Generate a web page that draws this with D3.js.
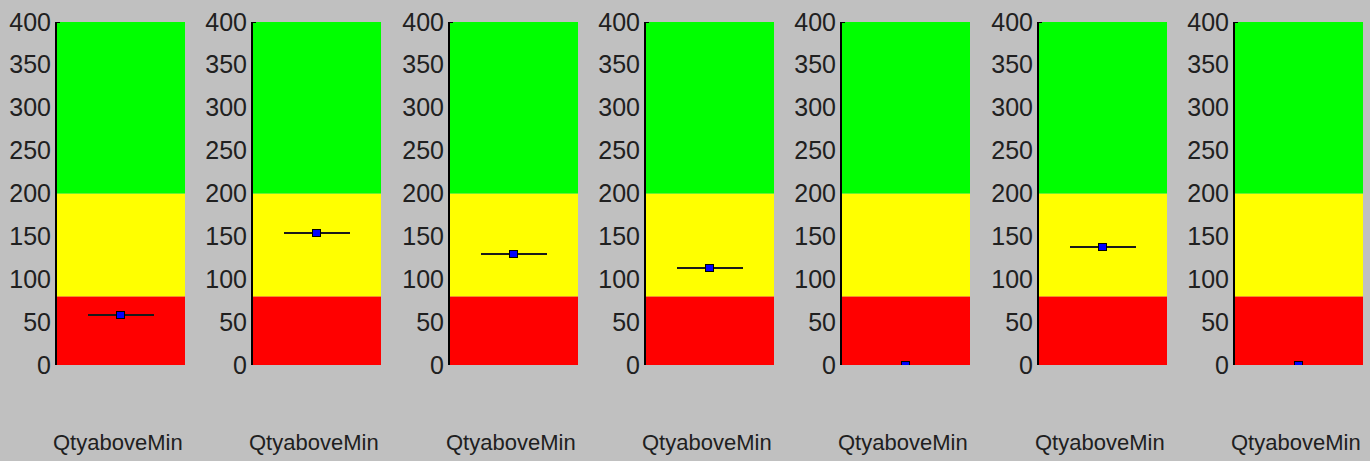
<!DOCTYPE html>
<html>
<head>
<meta charset="utf-8">
<script src="https://cdn.jsdelivr.net/npm/d3@7"></script>
<style>
  html, body { margin: 0; padding: 0; background: #c0c0c0; }
  svg { display: block; }
  .tick text { font-family: "Liberation Sans", Arial, sans-serif; }
</style>
</head>
<body>
<svg id="chart" width="1370" height="461"></svg>
<script>
// ---- data ----
const categories = ["QtyaboveMin", "QtyaboveMin", "QtyaboveMin", "QtyaboveMin", "QtyaboveMin", "QtyaboveMin", "QtyaboveMin"];
const values = [58, 154, 130, 113, 0, 138, 0];
const bandStarts = [0, 80, 200];
const bandEnds = [80, 200, 400];
const bandColors = ["#ff0000", "#ffff00", "#00ff00"];
const tickValues = [0, 50, 100, 150, 200, 250, 300, 350, 400];

// ---- layout ----
const plotTop = 22, plotBottom = 365;
const panelW = 128;
const svg = d3.select("#chart");

const xPanel = d3.scaleLinear().domain([0, categories.length - 1]).range([56, 1234]);
const y = d3.scaleLinear().domain([0, 400]).range([plotBottom, plotTop]);

const bands = bandStarts.map((s, i) => ({ s, e: bandEnds[i], c: bandColors[i] }));

const defs = svg.append("defs");
defs.selectAll("clipPath.m")
  .data(categories)
  .join("clipPath")
  .attr("class", "m")
  .attr("id", (d, i) => "clip" + i)
  .append("rect")
  .attr("x", (d, i) => Math.round(xPanel(i)) + 1)
  .attr("y", y(400))
  .attr("width", panelW)
  .attr("height", y(0) - y(400));
defs.selectAll("clipPath.l")
  .data(categories)
  .join("clipPath")
  .attr("class", "l")
  .attr("id", (d, i) => "clipl" + i)
  .append("rect")
  .attr("x", (d, i) => Math.round(xPanel(i)) + 1)
  .attr("y", y(400))
  .attr("width", panelW)
  .attr("height", y(0) - y(400) - 1);

categories.forEach((cat, i) => {
  const x0 = Math.round(xPanel(i));
  const g = svg.append("g");

  // bands
  g.selectAll("rect.band")
    .data(bands)
    .join("rect")
    .attr("class", "band")
    .attr("x", x0 + 1)
    .attr("width", panelW)
    .attr("y", d => y(d.e))
    .attr("height", d => y(d.s) - y(d.e))
    .attr("fill", d => d.c);

  // axis
  const ax = g.append("g")
    .attr("transform", `translate(${x0},0)`)
    .call(d3.axisLeft(y).tickValues(tickValues).tickSize(0).tickPadding(5).tickFormat(d3.format("d")));
  ax.select(".domain").remove();
  ax.selectAll(".tick text")
    .attr("font-size", 25)
    .attr("fill", "#202020");
  ax.append("line")
    .attr("x1", 0).attr("x2", 0)
    .attr("y1", y(400)).attr("y2", y(0))
    .attr("stroke", "#000").attr("stroke-width", 2);
  ax.append("line")
    .attr("x1", 0).attr("x2", 4)
    .attr("y1", y(400) + 0.5).attr("y2", y(400) + 0.5)
    .attr("stroke", "#000").attr("stroke-width", 1);

  // marker
  const cx = x0 + 1 + panelW / 2;
  const vy = Math.round(y(values[i]));
  g.append("line")
    .attr("clip-path", `url(#clipl${i})`)
    .attr("x1", cx - 33).attr("x2", cx + 33)
    .attr("y1", vy).attr("y2", vy)
    .attr("stroke", "#1a1a1a").attr("stroke-width", 2);
  g.append("rect")
    .attr("clip-path", `url(#clip${i})`)
    .attr("x", cx - 4.5).attr("y", vy - 3.5)
    .attr("width", 8).attr("height", 7)
    .attr("fill", "#0000ff")
    .attr("stroke", "#000").attr("stroke-width", 1);

  // category label
  g.append("text")
    .attr("x", x0 - 3)
    .attr("y", 450)
    .attr("font-family", "Liberation Sans, Arial, sans-serif")
    .attr("font-size", 22)
    .attr("fill", "#202020")
    .text(cat);
});
</script>
</body>
</html>
